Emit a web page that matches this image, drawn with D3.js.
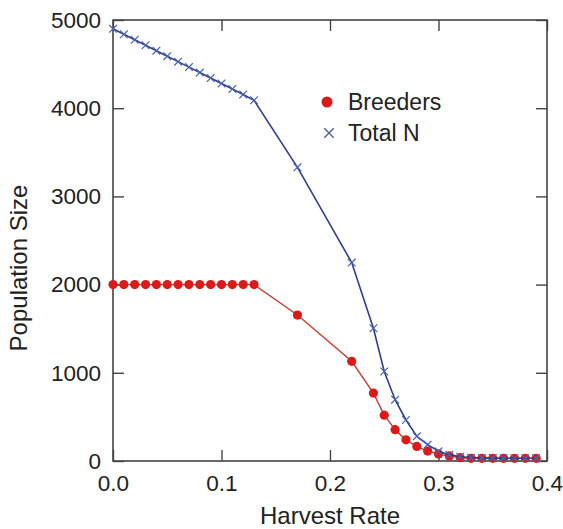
<!DOCTYPE html>
<html>
<head>
<meta charset="utf-8">
<script src="https://cdn.jsdelivr.net/npm/d3@7"></script>
<style>
  body { margin: 0; background: #fff; }
  text { font-family: "Liberation Sans", Arial, sans-serif; fill: #222; }
</style>
</head>
<body>
<div id="chart"></div>
<script>
// harvest rates sampled in the figure
var harvestRate = [0, 0.01, 0.02, 0.03, 0.04, 0.05, 0.06, 0.07, 0.08, 0.09, 0.10, 0.11, 0.12, 0.13,
    0.17, 0.22, 0.24, 0.25, 0.26, 0.27, 0.28, 0.29, 0.30, 0.31, 0.32,
    0.33, 0.34, 0.35, 0.36, 0.37, 0.38, 0.39];

var breeders = [2000, 2000, 2000, 2000, 2000, 2000, 2000, 2000, 2000, 2000, 2000, 2000, 2000, 2000,
    1655, 1130, 770, 520, 355, 240, 165, 113, 80, 57, 38,
    30, 30, 30, 30, 30, 30, 30];

var totalN = [4900, 4838, 4776, 4714, 4652, 4590, 4528, 4466, 4404, 4342, 4280, 4218, 4156, 4090,
    3330, 2250, 1505, 1015, 695, 465, 280, 185, 110, 72, 48,
    38, 35, 33, 32, 32, 32, 32];

var xTicks = [0, 0.1, 0.2, 0.3, 0.4];
var yTicks = [0, 1000, 2000, 3000, 4000, 5000];

var svgWidth = 563;
var svgHeight = 529;

var margin = { top: 20, right: 16, bottom: 68, left: 113 };
var width = svgWidth - margin.left - margin.right;
var height = svgHeight - margin.top - margin.bottom;

var svg = d3.select("#chart")
    .append("svg")
    .attr("width", svgWidth)
    .attr("height", svgHeight);

var chartGroup = svg.append("g")
    .attr("transform", `translate(${margin.left}, ${margin.top})`);

var x = d3.scaleLinear().domain([0, 0.4]).range([0, width]);
var y = d3.scaleLinear().domain([0, 5000]).range([height, 0]);

var axisColor = "#444";

// ticks point into the plot on all four sides
var bottomAxis = d3.axisBottom(x).tickValues(xTicks).tickFormat(d3.format(".1f"))
    .tickSize(-11).tickPadding(14);
var topAxis = d3.axisTop(x).tickValues(xTicks).tickFormat("").tickSize(-11);
var leftAxis = d3.axisLeft(y).tickValues(yTicks).tickFormat(d3.format("d"))
    .tickSize(-11).tickPadding(12);
var rightAxis = d3.axisRight(y).tickValues(yTicks).tickFormat("").tickSize(-11);

function styleAxis(g) {
    g.select(".domain").remove();
    g.selectAll("line").attr("stroke", axisColor).attr("stroke-width", 1.4);
    g.selectAll("text").attr("font-size", 22.5).attr("fill", "#2a2a2a")
        .style("font-family", "'Liberation Sans', Arial, sans-serif");
}

chartGroup.append("g").attr("transform", `translate(0, ${height})`).call(bottomAxis).call(styleAxis);
chartGroup.append("g").call(topAxis).call(styleAxis);
chartGroup.append("g").call(leftAxis).call(styleAxis);
chartGroup.append("g").attr("transform", `translate(${width}, 0)`).call(rightAxis).call(styleAxis);

chartGroup.append("rect")
    .attr("width", width)
    .attr("height", height)
    .attr("fill", "none")
    .attr("stroke", axisColor)
    .attr("stroke-width", 1.6);

var rows = harvestRate.map(function(h, i) {
    return { h: h, b: breeders[i], t: totalN[i] };
});

// Breeders
var breedLine = d3.line().x(d => x(d.h)).y(d => y(d.b));
chartGroup.append("path")
    .datum(rows)
    .attr("fill", "none")
    .attr("stroke", "#c8402f")
    .attr("stroke-width", 1.4)
    .attr("d", breedLine);

chartGroup.selectAll(".breedDot")
    .data(rows)
    .enter()
    .append("circle")
    .attr("class", "breedDot")
    .attr("cx", d => x(d.h))
    .attr("cy", d => y(d.b))
    .attr("r", 4.6)
    .attr("fill", "#dc1a1a");

// Total N
var totalLine = d3.line().x(d => x(d.h)).y(d => y(d.t));
chartGroup.append("path")
    .datum(rows)
    .attr("fill", "none")
    .attr("stroke", "#2e3f8f")
    .attr("stroke-width", 1.6)
    .attr("d", totalLine);

var cross = d3.symbol().type(d3.symbolX).size(40);
chartGroup.selectAll(".totalMark")
    .data(rows)
    .enter()
    .append("path")
    .attr("class", "totalMark")
    .attr("transform", d => `translate(${x(d.h)}, ${y(d.t)})`)
    .attr("d", cross)
    .attr("fill", "none")
    .attr("stroke", "#4a62b0")
    .attr("stroke-width", 1.2);

// legend
var legend = svg.append("g").attr("transform", "translate(327, 102)");
legend.append("circle").attr("cx", 0).attr("cy", 0).attr("r", 5.5).attr("fill", "#dc1a1a");
legend.append("text").attr("x", 21).attr("y", 0).attr("dy", "0.35em")
    .attr("font-size", 23).text("Breeders");
legend.append("path")
    .attr("transform", "translate(2, 31)")
    .attr("d", d3.symbol().type(d3.symbolX).size(60))
    .attr("fill", "none")
    .attr("stroke", "#4a5a9a")
    .attr("stroke-width", 1.3);
legend.append("text").attr("x", 21).attr("y", 31).attr("dy", "0.35em")
    .attr("font-size", 23).text("Total N");

// axis titles
svg.append("text")
    .attr("x", margin.left + width / 2)
    .attr("y", 524)
    .attr("text-anchor", "middle")
    .attr("font-size", 24)
    .text("Harvest Rate");

svg.append("text")
    .attr("transform", "translate(27, 268) rotate(-90)")
    .attr("text-anchor", "middle")
    .attr("font-size", 24)
    .text("Population Size");
</script>
</body>
</html>
